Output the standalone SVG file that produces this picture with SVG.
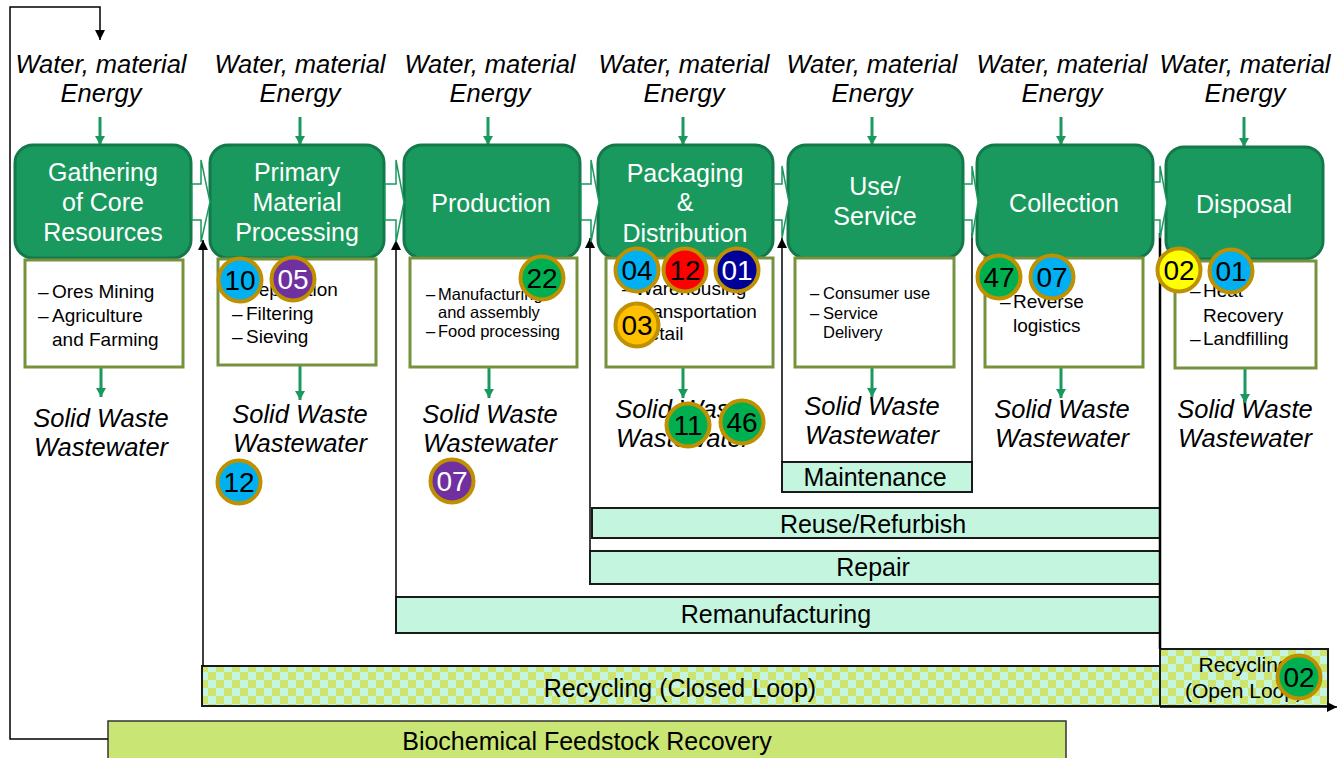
<svg xmlns="http://www.w3.org/2000/svg" width="1338" height="758" viewBox="0 0 1338 758">
<style>
.hdr{fill:#1a995e;stroke:#13784a;stroke-width:3}
.ht{font-family:"Liberation Sans",Arial,sans-serif;font-size:25px;fill:#fff;text-anchor:middle}
.sub{fill:#fff;stroke:#76923c;stroke-width:3}
.st{font-family:"Liberation Sans",Arial,sans-serif;font-size:19px;fill:#000}
.st2{font-family:"Liberation Sans",Arial,sans-serif;font-size:16.5px;fill:#000}
.it{font-family:"Liberation Sans",Arial,sans-serif;font-size:25.5px;font-style:italic;fill:#000;text-anchor:middle}
.loop{fill:#c4f5df;stroke:#1a1a1a;stroke-width:2}
.lt{font-family:"Liberation Sans",Arial,sans-serif;font-size:25px;fill:#000;text-anchor:middle}
.bio{fill:#c9e574;stroke:#333;stroke-width:1.5}
.chev{fill:#fff;stroke:#1a995e;stroke-width:1.5}
.blk{fill:none;stroke:#000;stroke-width:1.5}
.grn{fill:none;stroke:#1a995e;stroke-width:3}
.bd{stroke:#bf9000;stroke-width:4}
.bt{font-family:"Liberation Sans",Arial,sans-serif;font-size:28px;text-anchor:middle}
</style>
<defs>
<marker id="ab" markerUnits="userSpaceOnUse" markerWidth="12" markerHeight="12" refX="10" refY="5" orient="auto">
<path d="M0,0 L10,5 L0,10 z" fill="#000"/>
</marker>
<marker id="ag" markerUnits="userSpaceOnUse" markerWidth="12" markerHeight="12" refX="9" refY="5" orient="auto">
<path d="M0,0 L9,5 L0,10 z" fill="#1a995e"/>
</marker>
<pattern id="chk" width="16" height="16" patternUnits="userSpaceOnUse">
<rect width="16" height="16" fill="#c6f5df"/>
<rect width="8" height="8" fill="#cde56f"/>
<rect x="8" y="8" width="8" height="8" fill="#cde56f"/>
</pattern>
</defs>
<rect width="1338" height="758" fill="#fff"/>

<g id="inputs">
<text class="it" x="101" y="73">Water, material</text><text class="it" x="101" y="102">Energy</text>
<text class="it" x="300" y="73">Water, material</text><text class="it" x="300" y="102">Energy</text>
<text class="it" x="490" y="73">Water, material</text><text class="it" x="490" y="102">Energy</text>
<text class="it" x="684" y="73">Water, material</text><text class="it" x="684" y="102">Energy</text>
<text class="it" x="872" y="73">Water, material</text><text class="it" x="872" y="102">Energy</text>
<text class="it" x="1062" y="73">Water, material</text><text class="it" x="1062" y="102">Energy</text>
<text class="it" x="1245" y="73">Water, material</text><text class="it" x="1245" y="102">Energy</text>
</g>

<g id="outputs">
<text class="it" x="101" y="427">Solid Waste</text><text class="it" x="101" y="456">Wastewater</text>
<text class="it" x="300" y="423">Solid Waste</text><text class="it" x="300" y="452">Wastewater</text>
<text class="it" x="490" y="423">Solid Waste</text><text class="it" x="490" y="452">Wastewater</text>
<text class="it" x="683" y="418">Solid Waste</text><text class="it" x="683" y="447">Wastewater</text>
<text class="it" x="872" y="415">Solid Waste</text><text class="it" x="872" y="444">Wastewater</text>
<text class="it" x="1062" y="418">Solid Waste</text><text class="it" x="1062" y="447">Wastewater</text>
<text class="it" x="1245" y="418">Solid Waste</text><text class="it" x="1245" y="447">Wastewater</text>
</g>

<g id="loops">
<g id="maintenance"><rect class="loop" x="782" y="462" width="190" height="30"/><text class="lt" x="875" y="486">Maintenance</text></g>
<g id="reuse"><rect class="loop" x="592" y="508" width="568" height="30"/><text class="lt" x="873" y="533">Reuse/Refurbish</text></g>
<g id="repair"><rect class="loop" x="590" y="551" width="570" height="33"/><text class="lt" x="873" y="576">Repair</text></g>
<g id="remanufacturing"><rect class="loop" x="396" y="597" width="764" height="36"/><text class="lt" x="776" y="623">Remanufacturing</text></g>
<g id="recycling-closed"><rect x="202" y="666" width="958" height="40" fill="url(#chk)" stroke="#1a1a1a" stroke-width="2"/><text class="lt" x="680" y="697">Recycling (Closed Loop)</text></g>
<g id="recycling-open"><rect x="1160" y="649" width="168" height="57" fill="url(#chk)" stroke="#1a1a1a" stroke-width="2"/><text class="lt" style="font-size:21px" x="1244" y="672">Recycling</text><text class="lt" style="font-size:21px" x="1244" y="698">(Open Loop)</text></g>
<g id="biochemical"><rect class="bio" x="108" y="721" width="958" height="45"/><text class="lt" x="587" y="750">Biochemical Feedstock Recovery</text></g>
</g>

<g id="connectors">
<path class="blk" d="M108,739 H10 V7 H100 V40" marker-end="url(#ab)"/>
<line class="blk" x1="203" y1="666" x2="203" y2="240" marker-end="url(#ab)"/>
<line class="blk" x1="396" y1="597" x2="396" y2="240" marker-end="url(#ab)"/>
<line class="blk" x1="590" y1="551" x2="590" y2="238" marker-end="url(#ab)"/>
<line class="blk" x1="782" y1="462" x2="782" y2="238" marker-end="url(#ab)"/>
<line class="blk" x1="972" y1="233" x2="972" y2="462"/>
<line x1="1160" y1="233" x2="1160" y2="649" stroke="#000" stroke-width="2.5"/>
<line class="blk" x1="1160" y1="707" x2="1337" y2="707" marker-end="url(#ab)"/>
<line class="grn" x1="100" y1="117" x2="100" y2="145" marker-end="url(#ag)"/>
<line class="grn" x1="300" y1="117" x2="300" y2="145" marker-end="url(#ag)"/>
<line class="grn" x1="488" y1="117" x2="488" y2="145" marker-end="url(#ag)"/>
<line class="grn" x1="683" y1="117" x2="683" y2="145" marker-end="url(#ag)"/>
<line class="grn" x1="872" y1="117" x2="872" y2="145" marker-end="url(#ag)"/>
<line class="grn" x1="1061" y1="117" x2="1061" y2="145" marker-end="url(#ag)"/>
<line class="grn" x1="1244" y1="117" x2="1244" y2="147" marker-end="url(#ag)"/>
<line class="grn" x1="101" y1="368" x2="101" y2="397" marker-end="url(#ag)"/>
<line class="grn" x1="300" y1="366" x2="300" y2="400" marker-end="url(#ag)"/>
<line class="grn" x1="489" y1="368" x2="489" y2="398" marker-end="url(#ag)"/>
<line class="grn" x1="683" y1="368" x2="683" y2="398" marker-end="url(#ag)"/>
<line class="grn" x1="872" y1="368" x2="872" y2="397" marker-end="url(#ag)"/>
<line class="grn" x1="1061" y1="368" x2="1061" y2="398" marker-end="url(#ag)"/>
<line class="grn" x1="1245" y1="369" x2="1245" y2="403" marker-end="url(#ag)"/>
</g>

<g id="gathering">
<rect class="hdr" x="15" y="145" width="176" height="113" rx="18"/>
<text class="ht" x="103" y="181">Gathering</text><text class="ht" x="103" y="211">of Core</text><text class="ht" x="103" y="241">Resources</text>
<rect class="sub" x="25" y="260" width="158" height="107"/>
<text class="st" y="298"><tspan x="38">–</tspan><tspan x="52">Ores Mining</tspan></text>
<text class="st" y="322"><tspan x="38">–</tspan><tspan x="52">Agriculture</tspan></text>
<text class="st" x="52" y="346">and Farming</text>
</g>

<g id="primary">
<rect class="hdr" x="210" y="145" width="174" height="113" rx="18"/>
<text class="ht" x="297" y="181">Primary</text><text class="ht" x="297" y="211">Material</text><text class="ht" x="297" y="241">Processing</text>
<rect class="sub" x="218" y="259" width="158" height="106"/>
<text class="st" y="296"><tspan x="232">–</tspan><tspan x="246">Separation</tspan></text>
<text class="st" y="320"><tspan x="232">–</tspan><tspan x="246">Filtering</tspan></text>
<text class="st" y="343"><tspan x="232">–</tspan><tspan x="246">Sieving</tspan></text>
</g>

<g id="production">
<rect class="hdr" x="404" y="145" width="176" height="113" rx="18"/>
<text class="ht" x="491" y="212">Production</text>
<rect class="sub" x="410" y="258" width="167" height="109"/>
<text class="st2" y="300"><tspan x="426">–</tspan><tspan x="438">Manufacturing</tspan></text>
<text class="st2" x="438" y="318">and assembly</text>
<text class="st2" y="337"><tspan x="426">–</tspan><tspan x="438">Food processing</tspan></text>
</g>

<g id="packaging">
<rect class="hdr" x="598" y="145" width="175" height="113" rx="18"/>
<text class="ht" x="685" y="182">Packaging</text><text class="ht" x="685" y="211">&amp;</text><text class="ht" x="685" y="242">Distribution</text>
<rect class="sub" x="606" y="258" width="167" height="109"/>
<text class="st" y="295"><tspan x="622">–</tspan><tspan x="635">Warehousing</tspan></text>
<text class="st" y="318"><tspan x="622">–</tspan><tspan x="635">Transportation</tspan></text>
<text class="st" y="340"><tspan x="622">–</tspan><tspan x="635">Retail</tspan></text>
</g>

<g id="use">
<rect class="hdr" x="788" y="145" width="175" height="113" rx="18"/>
<text class="ht" x="875" y="195">Use/</text><text class="ht" x="875" y="225">Service</text>
<rect class="sub" x="795" y="258" width="159" height="109"/>
<text class="st2" y="299"><tspan x="810">–</tspan><tspan x="823">Consumer use</tspan></text>
<text class="st2" y="319"><tspan x="810">–</tspan><tspan x="823">Service</tspan></text>
<text class="st2" x="823" y="338">Delivery</text>
</g>

<g id="collection">
<rect class="hdr" x="977" y="145" width="176" height="113" rx="18"/>
<text class="ht" x="1064" y="212">Collection</text>
<rect class="sub" x="985" y="258" width="158" height="109"/>
<text class="st" y="308"><tspan x="1000">–</tspan><tspan x="1013">Reverse</tspan></text>
<text class="st" x="1013" y="332">logistics</text>
</g>

<g id="disposal">
<rect class="hdr" x="1166" y="147" width="157" height="112" rx="18"/>
<text class="ht" x="1244" y="213">Disposal</text>
<rect class="sub" x="1175" y="261" width="141" height="107"/>
<text class="st" y="297"><tspan x="1190">–</tspan><tspan x="1203">Heat</tspan></text>
<text class="st" x="1203" y="322">Recovery</text>
<text class="st" y="345"><tspan x="1190">–</tspan><tspan x="1203">Landfilling</tspan></text>
</g>

<g id="chevrons">
<polygon class="chev" points="192,184 201,184 201,160 210,202 201,242 201,220 192,220"/>
<polygon class="chev" points="385,184 396,184 396,160 404,202 396,242 396,220 385,220"/>
<polygon class="chev" points="581,184 591,184 591,160 599,202 591,242 591,220 581,220"/>
<polygon class="chev" points="774,184 782,184 782,166 789,202 782,238 782,220 774,220"/>
<polygon class="chev" points="964,184 972,184 972,166 978,202 972,238 972,220 964,220"/>
<polygon class="chev" points="1154,182 1160,182 1160,166 1167,203 1160,238 1160,220 1154,220"/>
</g>

<g id="badges">
<g id="b10"><circle class="bd" cx="240" cy="280" r="21.5" fill="#00b0f0"/><text class="bt" x="240" y="290" fill="#000">10</text></g>
<g id="b05"><circle class="bd" cx="293" cy="279" r="21.5" fill="#7030a0"/><text class="bt" x="293" y="289" fill="#fff">05</text></g>
<g id="b12a"><circle class="bd" cx="239" cy="482" r="21.5" fill="#00b0f0"/><text class="bt" x="239" y="492" fill="#000">12</text></g>
<g id="b22"><circle class="bd" cx="542" cy="278" r="21.5" fill="#00b050"/><text class="bt" x="542" y="288" fill="#000">22</text></g>
<g id="b07a"><circle class="bd" cx="452" cy="481" r="21.5" fill="#7030a0"/><text class="bt" x="452" y="491" fill="#fff">07</text></g>
<g id="b04"><circle class="bd" cx="637" cy="270" r="21.5" fill="#00b0f0"/><text class="bt" x="637" y="280" fill="#000">04</text></g>
<g id="b12b"><circle class="bd" cx="685" cy="270" r="21.5" fill="#ff0000"/><text class="bt" x="685" y="280" fill="#000">12</text></g>
<g id="b01a"><circle class="bd" cx="737" cy="270" r="21.5" fill="#000099"/><text class="bt" x="737" y="280" fill="#fff">01</text></g>
<g id="b03"><circle class="bd" cx="637" cy="325" r="21.5" fill="#ffc000"/><text class="bt" x="637" y="335" fill="#000">03</text></g>
<g id="b11"><circle class="bd" cx="688" cy="425" r="21.5" fill="#00b050"/><text class="bt" x="688" y="435" fill="#000">11</text></g>
<g id="b46"><circle class="bd" cx="742" cy="422" r="21.5" fill="#00b050"/><text class="bt" x="742" y="432" fill="#000">46</text></g>
<g id="b47"><circle class="bd" cx="999" cy="277" r="21.5" fill="#00b050"/><text class="bt" x="999" y="287" fill="#000">47</text></g>
<g id="b07b"><circle class="bd" cx="1052" cy="277" r="21.5" fill="#00b0f0"/><text class="bt" x="1052" y="287" fill="#000">07</text></g>
<g id="b02a"><circle class="bd" cx="1179" cy="270" r="21.5" fill="#ffff00"/><text class="bt" x="1179" y="280" fill="#000">02</text></g>
<g id="b01b"><circle class="bd" cx="1231" cy="271" r="21.5" fill="#00b0f0"/><text class="bt" x="1231" y="281" fill="#000">01</text></g>
<g id="b02b"><circle class="bd" cx="1299" cy="677" r="21.5" fill="#00b050"/><text class="bt" x="1299" y="687" fill="#000">02</text></g>
</g>
</svg>
